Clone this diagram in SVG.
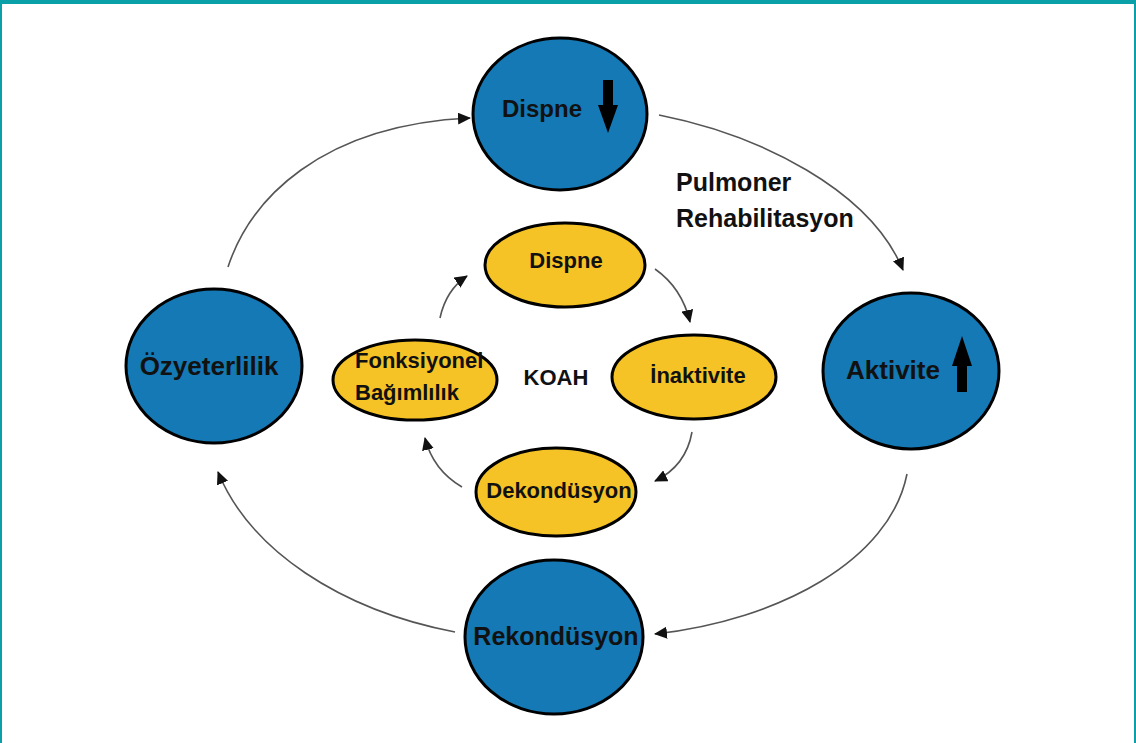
<svg xmlns="http://www.w3.org/2000/svg" width="1136" height="743" viewBox="0 0 1136 743">
<style>
.big{fill:#1479b5;stroke:#000;stroke-width:3}
.small{fill:#f5c325;stroke:#000;stroke-width:3}
text{font-family:"Liberation Sans",Arial,sans-serif;font-weight:bold;fill:#111}
.bt{font-size:25px}
.st{font-size:22px}
.con path{fill:none;stroke:#555;stroke-width:1.6;marker-end:url(#ah)}
</style>
<defs>
<marker id="ah" markerUnits="userSpaceOnUse" markerWidth="14" markerHeight="12" refX="12" refY="6" orient="auto">
<path d="M0,0 L13,6 L0,12 Z" fill="#111"/>
</marker>
</defs>
<rect x="0" y="0" width="1136" height="743" fill="#fff"/>
<rect x="0" y="0" width="1136" height="4" fill="#0aa0a8"/>
<rect x="0" y="0" width="2" height="743" fill="#0aa0a8"/>
<rect x="1134" y="0" width="2" height="743" fill="#0aa0a8"/>

<g id="connectors" class="con">
<path d="M228,267 C250,200 320,125 470,118"/>
<path d="M659,115 C760,135 870,190 903,270"/>
<path d="M907,474 C890,560 780,620 655,634"/>
<path d="M455,632 C340,610 250,550 218,472"/>
<path d="M440,318 Q446,290 467,276"/>
<path d="M655,269 Q682,288 690,322"/>
<path d="M692,432 Q686,466 655,481"/>
<path d="M462,487 Q433,470 425,438"/>
</g>

<g id="n-dispne-top">
<ellipse class="big" cx="560" cy="114" rx="87" ry="76"/>
<text class="bt" x="542" y="117" text-anchor="middle" style="font-size:24px">Dispne</text>
<path d="M603,80 L613,80 L613,105 L618,105 L608,133 L598,105 L603,105 Z" fill="#000"/>
</g>

<g id="n-aktivite">
<ellipse class="big" cx="911" cy="371" rx="88" ry="78"/>
<text class="bt" x="893" y="379" text-anchor="middle" style="font-size:26px">Aktivite</text>
<path d="M962,336 L972,366 L967,366 L967,392 L957,392 L957,366 L952,366 Z" fill="#000"/>
</g>

<g id="n-rekondusyon">
<ellipse class="big" cx="554" cy="637" rx="89" ry="77"/>
<text class="bt" x="556" y="645" text-anchor="middle">Rekondüsyon</text>
</g>

<g id="n-ozyeterlilik">
<ellipse class="big" cx="214" cy="366" rx="88" ry="77"/>
<text class="bt" x="209" y="375" text-anchor="middle" style="font-size:26px">Özyeterlilik</text>
</g>

<g id="label-pr">
<text class="bt" x="676" y="191">Pulmoner</text>
<text class="bt" x="676" y="227">Rehabilitasyon</text>
</g>

<g id="n-dispne-small">
<ellipse class="small" cx="565" cy="265" rx="80" ry="42"/>
<text class="st" x="566" y="268" text-anchor="middle">Dispne</text>
</g>

<g id="n-inaktivite">
<ellipse class="small" cx="694" cy="377" rx="82" ry="42"/>
<text class="st" x="698" y="383" text-anchor="middle">İnaktivite</text>
</g>

<g id="n-dekondusyon">
<ellipse class="small" cx="556" cy="492" rx="80" ry="44"/>
<text class="st" x="559" y="498" text-anchor="middle">Dekondüsyon</text>
</g>

<g id="n-fonksiyonel">
<ellipse class="small" cx="415" cy="380" rx="82" ry="40"/>
<text class="st" x="355" y="368">Fonksiyonel</text>
<text class="st" x="355" y="400">Bağımlılık</text>
</g>

<g id="koah">
<text class="st" x="556" y="385" text-anchor="middle">KOAH</text>
</g>
</svg>
